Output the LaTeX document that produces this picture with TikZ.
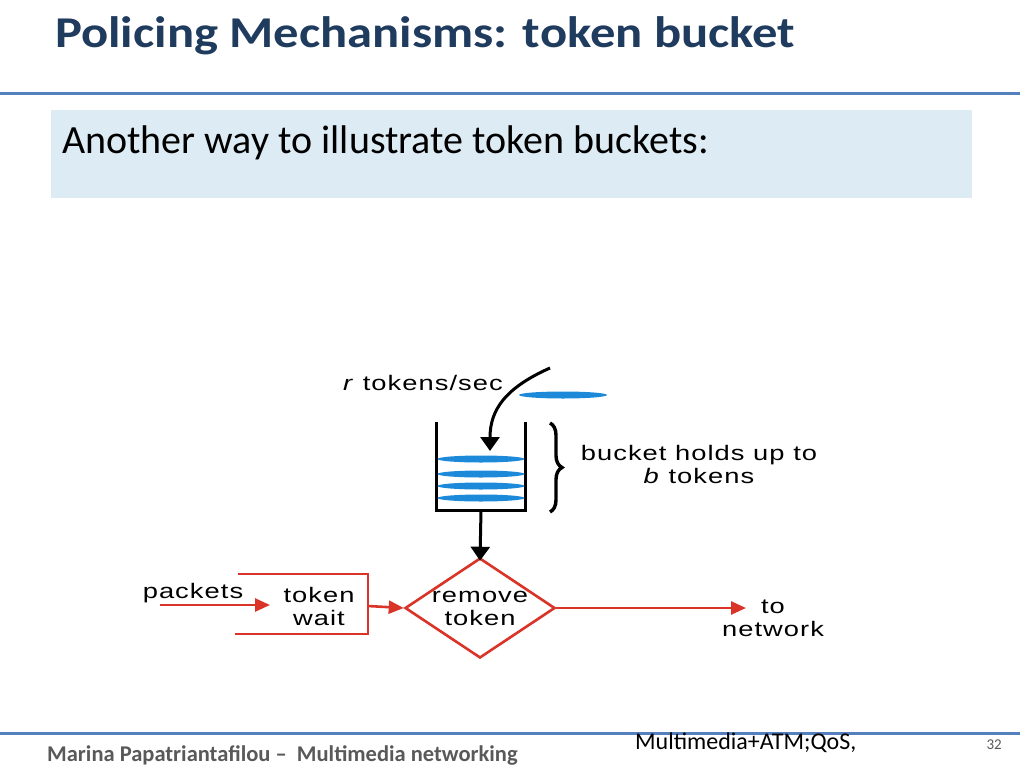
\documentclass[tikz,border=0pt]{standalone}
\usepackage{fontspec}
\setmainfont{Carlito}
\newfontfamily\headfont[FakeStretch=1.15]{Carlito}
\newfontfamily\figfont[FakeStretch=1.3,LetterSpace=5]{Liberation Sans}
\usetikzlibrary{positioning,shapes.geometric,arrows.meta,decorations.pathreplacing}

\definecolor{titleblue}{HTML}{1F3B5E}
\definecolor{headblue}{HTML}{5580BE}
\definecolor{boxblue}{HTML}{DDEBF4}
\definecolor{footgray}{HTML}{595959}
\definecolor{flowred}{HTML}{DA3328}
\definecolor{tokenblue}{HTML}{1C8AD8}

\tikzset{
	redline/.style={draw=flowred,line width=2.6pt},
	redarrow/.style={flowred,line width=2.6pt,-{Triangle[length=15pt,width=13pt]}},
	blackarrow/.style={black,line width=3pt,-{Triangle[length=14pt,width=19pt]}},
	token/.style={ellipse,fill=tokenblue,minimum width=88pt,minimum height=7pt,inner sep=0pt},
	figlabel/.style={font=\figfont\fontsize{21}{23}\selectfont,align=center,inner sep=0pt}
}

\begin{document}
\begin{tikzpicture}[x=1pt,y=-1pt]
			\fill[white] (0,0) rectangle (1024,768);
			\useasboundingbox (0,0) rectangle (1024,768);
			% slide frame
			\node[anchor=base west,inner sep=0pt,text=titleblue,font=\headfont\bfseries\fontsize{44}{52}\selectfont] (title) at (55,48) {Policing Mechanisms: token bucket};
			\draw[headblue,line width=3pt] (0,93) -- (1020,93);
			\fill[boxblue] (51,110) rectangle (972,198);
			\node[anchor=base west,inner sep=0pt,font=\fontsize{40}{48}\selectfont] (intro) at (62,153) {Another way to illustrate token buckets:};
			\draw[headblue,line width=3pt] (0,733) -- (1020,733);
			\node[anchor=base west,inner sep=0pt,text=footgray,font=\bfseries\fontsize{22.5}{27}\selectfont] (author) at (47,761) {Marina Papatriantafilou --\ \ Multimedia networking};
			\node[anchor=base west,inner sep=0pt,font=\fontsize{24}{29}\selectfont] (course) at (635,749) {Multimedia+ATM;QoS,};
			\node[anchor=base east,inner sep=0pt,text=footgray,font=\fontsize{15}{18}\selectfont] (page) at (1002,749) {32};
			% bucket
			\node[figlabel,anchor=base east] (rate) at (503,390) {\textit{r} tokens/sec};
			\node[token] (newtok) at (563,395) {};
			\draw[line width=3pt] (436,422) -- (436,510) -- (525,510) -- (525,422);
			\foreach \y in {459,474,486,498}
				\node[token,minimum width=87pt] at (481,\y) {};
			\coordinate (drop) at (550,368);
			\coordinate (fill) at (490,451);
			\draw[blackarrow] (drop) .. controls (505,388) and (490,410) .. (fill);
			\draw[decorate,decoration={brace,amplitude=12pt},line width=3.4pt] (550,423) -- (550,512);
			\node[figlabel] (holds) at (699,464) {bucket holds up to\\\textit{b} tokens};
			% packet path
			\node[diamond,draw=flowred,line width=2.6pt,aspect=1.5,minimum width=150pt,minimum height=100pt,inner sep=-6pt,figlabel] (remove) at (480,608) {remove\\token};
			\coordinate (bottom) at (481,510);
			\draw[blackarrow] (bottom) -- ([yshift=-4pt]remove.north);
			\node[figlabel] (wait) at (319,606) {token\\wait};
			\draw[redline] (238,574) -- (368,574) -- (368,634) -- (235,634);
			\coordinate (boxout) at (368,606);
			\draw[redarrow] (boxout) -- (remove.west);
			\node[figlabel,anchor=base] (packets) at (193,598) {packets};
			\coordinate (pin) at (160,605);
			\coordinate (pend) at (270,605);
			\draw[redarrow] (pin) -- (pend);
			\node[figlabel] (net) at (773,618) {to\\network};
			\coordinate (netin) at (746,608);
			\draw[redarrow] (remove.east) -- (netin);
		\end{tikzpicture}
\end{document}
